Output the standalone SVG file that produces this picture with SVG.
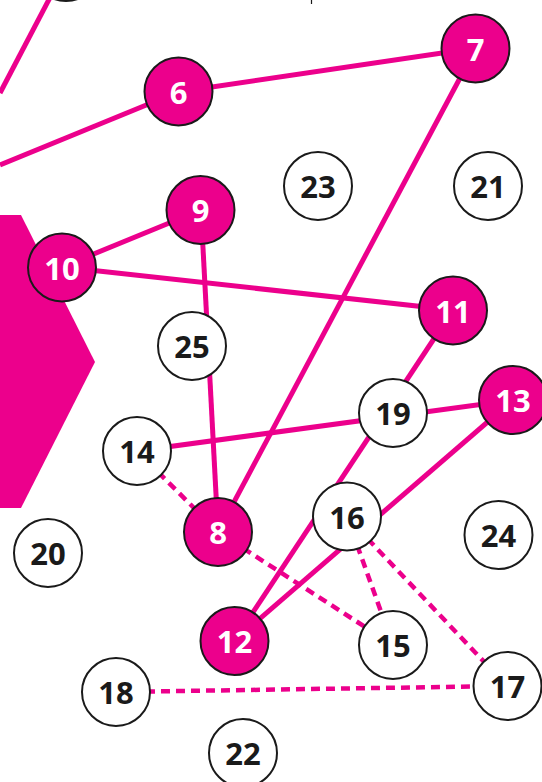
<svg xmlns="http://www.w3.org/2000/svg" width="542" height="782" viewBox="0 0 542 782">
<style>
.e{stroke:#EC008C;stroke-width:5;fill:none}
.d{stroke:#EC008C;stroke-width:4.5;fill:none;stroke-dasharray:9 6}
.n circle{stroke:#1a1a1a;stroke-width:2}
.m circle{fill:#EC008C}
.w circle{fill:#fff}
.n text{font-family:"Open Sans","Noto Sans",sans-serif;font-weight:700;font-size:31px;text-anchor:middle;dominant-baseline:central}
.m text{fill:#fff}
.w text{fill:#1a1a1a}
</style>
<rect width="542" height="782" fill="#fff"/>
<polygon id="hex" points="-60,215 21,215 95,362 21,508 -60,508" fill="#EC008C"/>
<line x1="311.5" y1="0" x2="311.5" y2="4" stroke="#1a1a1a" stroke-width="1.2"/>
<g id="connectors">
<line class="e" x1="0" y1="93" x2="66" y2="-33"/>
<line class="e" x1="0" y1="165" x2="178" y2="92"/>
<line class="e" x1="178" y1="92" x2="476" y2="48"/>
<line class="e" x1="476" y1="48" x2="218" y2="532"/>
<line class="e" x1="201" y1="210" x2="62" y2="267"/>
<line class="e" x1="201" y1="210" x2="218" y2="532"/>
<line class="e" x1="62" y1="267" x2="453" y2="310"/>
<line class="e" x1="453" y1="310" x2="234" y2="641"/>
<line class="e" x1="137" y1="451" x2="513" y2="400"/>
<line class="e" x1="513" y1="400" x2="234" y2="641"/>
<line class="d" x1="137" y1="451" x2="218" y2="532"/>
<line class="d" x1="218" y1="532" x2="393" y2="645"/>
<line class="d" x1="347" y1="517" x2="393" y2="645"/>
<line class="d" x1="347" y1="517" x2="507" y2="686"/>
<line class="d" x1="116" y1="692" x2="507" y2="686"/>
</g>
<g id="n5" class="n m"><circle cx="66" cy="-33" r="34"/></g>
<g id="n6" class="n m"><circle cx="178.5" cy="91.5" r="34"/><text x="178.5" y="91.5">6</text></g>
<g id="n7" class="n m"><circle cx="475.5" cy="48.5" r="34"/><text x="475.5" y="48.5">7</text></g>
<g id="n9" class="n m"><circle cx="200.5" cy="210" r="34"/><text x="200.5" y="210">9</text></g>
<g id="n10" class="n m"><circle cx="62" cy="267.5" r="34"/><text x="62" y="267.5">10</text></g>
<g id="n11" class="n m"><circle cx="453" cy="310.5" r="34"/><text x="453" y="310.5">11</text></g>
<g id="n13" class="n m"><circle cx="513" cy="400" r="34"/><text x="513" y="400">13</text></g>
<g id="n8" class="n m"><circle cx="218" cy="532" r="34"/><text x="218" y="532">8</text></g>
<g id="n12" class="n m"><circle cx="234.5" cy="641" r="34"/><text x="234.5" y="641">12</text></g>
<g id="n23" class="n w"><circle cx="318" cy="186" r="34"/><text x="318" y="186">23</text></g>
<g id="n21" class="n w"><circle cx="488" cy="186" r="34"/><text x="488" y="186">21</text></g>
<g id="n25" class="n w"><circle cx="192" cy="346" r="34"/><text x="192" y="346">25</text></g>
<g id="n14" class="n w"><circle cx="137" cy="451" r="34"/><text x="137" y="451">14</text></g>
<g id="n19" class="n w"><circle cx="393" cy="413" r="34"/><text x="393" y="413">19</text></g>
<g id="n16" class="n w"><circle cx="347" cy="516.5" r="34"/><text x="347" y="516.5">16</text></g>
<g id="n24" class="n w"><circle cx="498.5" cy="535" r="34"/><text x="498.5" y="535">24</text></g>
<g id="n20" class="n w"><circle cx="48" cy="553" r="34"/><text x="48" y="553">20</text></g>
<g id="n15" class="n w"><circle cx="393" cy="645" r="34"/><text x="393" y="645">15</text></g>
<g id="n17" class="n w"><circle cx="507.5" cy="686" r="34"/><text x="507.5" y="686">17</text></g>
<g id="n18" class="n w"><circle cx="116" cy="692" r="34"/><text x="116" y="692">18</text></g>
<g id="n22" class="n w"><circle cx="243" cy="753" r="34"/><text x="243" y="753">22</text></g>
</svg>
